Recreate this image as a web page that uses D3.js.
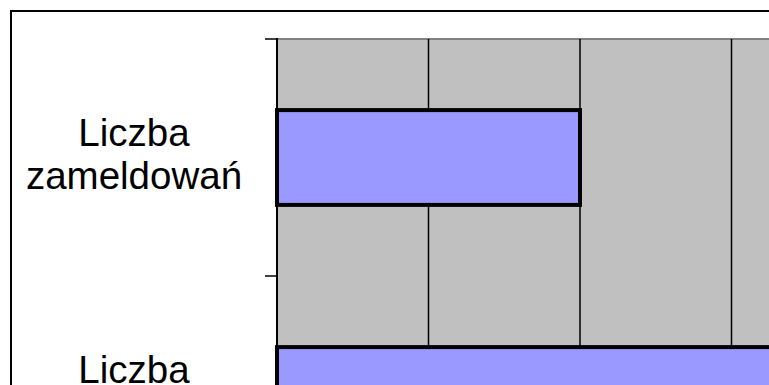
<!DOCTYPE html>
<html>
<head>
<meta charset="utf-8">
<script src="https://cdn.jsdelivr.net/npm/d3@7"></script>
<style>
  body { margin: 0; background: #fff; }
  svg { display: block; }
</style>
</head>
<body>
<div class="chart"></div>
<script>
// data
var categories = ["Liczba zameldowań", "Liczba wymeldowań"];
var values = [2000, 4500];
var xTicks = [0, 1000, 2000, 3000, 4000, 5000];

var chartOptions = {
  width: 769,
  height: 385,
  plotLeft: 277,
  plotTop: 39,
  unitWidth: 151.5,
  bandStep: 237
};

var svg = d3.select('.chart').append('svg')
              .attr('width', chartOptions.width)
              .attr('height', chartOptions.height);

// chart area border (runs off the picture on right and bottom)
svg.append('rect')
  .attr('x', 11).attr('y', 11)
  .attr('width', 900).attr('height', 600)
  .attr('fill', '#fff')
  .attr('stroke', '#000')
  .attr('stroke-width', 2);

var x = d3.scaleLinear()
  .domain([0, 5000])
  .range([chartOptions.plotLeft, chartOptions.plotLeft + chartOptions.unitWidth * 5]);

var y = d3.scaleBand()
  .domain(categories)
  .range([chartOptions.plotTop, chartOptions.plotTop + chartOptions.bandStep * categories.length])
  .paddingInner(0.6)
  .paddingOuter(0.3);

// plot area
svg.append('rect')
  .attr('x', x(0)).attr('y', y.range()[0])
  .attr('width', x(5000) - x(0))
  .attr('height', y.range()[1] - y.range()[0])
  .attr('fill', '#c0c0c0')
  .attr('stroke', '#808080')
  .attr('stroke-width', 2);

// vertical gridlines
svg.selectAll('line.grid')
  .data(xTicks.slice(1))
  .enter()
  .append('line')
  .attr('class', 'grid')
  .attr('x1', function(d) { return x(d); })
  .attr('x2', function(d) { return x(d); })
  .attr('y1', y.range()[0])
  .attr('y2', y.range()[1])
  .attr('stroke', '#000')
  .attr('stroke-width', 1.5);

// bars
svg.selectAll('rect.bar')
  .data(values)
  .enter()
  .append('rect')
  .attr('class', 'bar')
  .attr('x', x(0))
  .attr('y', function(d, i) { return y(categories[i]); })
  .attr('width', function(d) { return x(d) - x(0); })
  .attr('height', y.bandwidth())
  .attr('fill', '#9999ff')
  .attr('stroke', '#000')
  .attr('stroke-width', 4);

// category axis: boundaries between categories get the ticks
var yAxis = svg.append('g')
  .attr('transform', 'translate(' + x(0) + ',0)');

yAxis.append('line')
  .attr('x1', 0).attr('x2', 0)
  .attr('y1', y.range()[0] - 1)
  .attr('y2', y.range()[1])
  .attr('stroke', '#000')
  .attr('stroke-width', 2);

var boundaries = d3.range(categories.length + 1).map(function(i) {
  return y.range()[0] + i * y.step();
});

yAxis.selectAll('line.tick')
  .data(boundaries)
  .enter()
  .append('line')
  .attr('class', 'tick')
  .attr('x1', -12).attr('x2', 0)
  .attr('y1', function(d) { return d; })
  .attr('y2', function(d) { return d; })
  .attr('stroke', '#000')
  .attr('stroke-width', 1.5);

// category labels, two lines each
var labels = svg.selectAll('text.cat')
  .data(categories)
  .enter()
  .append('text')
  .attr('class', 'cat')
  .attr('text-anchor', 'middle')
  .attr('font-family', 'Liberation Sans, Arial, sans-serif')
  .attr('font-size', 38.5)
  .attr('fill', '#000');

labels.each(function(d) {
  var words = d.split(' ');
  var mid = y(d) + y.bandwidth() / 2;
  d3.select(this).selectAll('tspan')
    .data(words)
    .enter()
    .append('tspan')
    .attr('x', 134)
    .attr('y', function(w, i) { return mid - 12 + i * 43; })
    .text(function(w) { return w; });
});
</script>
</body>
</html>
